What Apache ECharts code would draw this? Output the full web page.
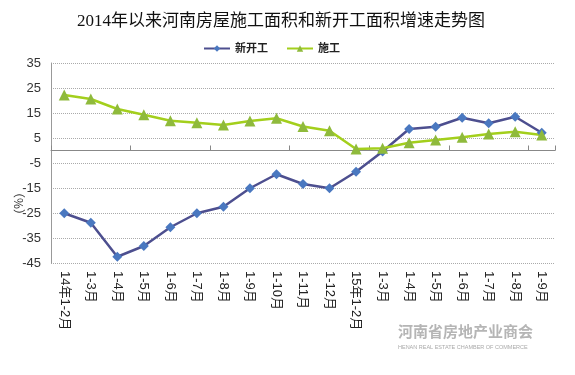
<!DOCTYPE html>
<html><head><meta charset="utf-8">
<script src="https://cdn.jsdelivr.net/npm/echarts@6/dist/echarts.min.js"></script>
<style>html,body{margin:0;padding:0;background:#fff}#c{width:575px;height:375px}</style>
</head><body><div id="c"></div>
<script>
const categories = ['14年1-2月','1-3月','1-4月','1-5月','1-6月','1-7月','1-8月','1-9月','1-10月','1-11月','1-12月','15年1-2月','1-3月','1-4月','1-5月','1-6月','1-7月','1-8月','1-9月'];
const newStart = [-25.1,-28.9,-42.5,-38.2,-30.7,-25.1,-22.5,-15.1,-9.5,-13.4,-15.1,-8.5,-0.4,8.6,9.5,13.1,10.9,13.5,7.1];
const construction = [22.2,20.6,16.6,14.3,11.9,11.1,10.2,11.8,12.9,9.6,7.9,0.6,0.9,3.1,4.2,5.3,6.6,7.5,6.2];
const yMin = -45, yMax = 35, yStep = 10;

const chart = echarts.init(document.getElementById('c'));
const sans = "'Liberation Sans','Noto Sans CJK SC',sans-serif";
chart.setOption({
  animation: false,
  title: {
    text: '2014年以来河南房屋施工面积和新开工面积增速走势图',
    left: 72, top: 8,
    textStyle: {fontFamily: "'Liberation Serif','Noto Sans CJK SC',serif", fontSize: 17, fontWeight: 'normal', color: '#111'}
  },
  legend: {
    left: 198, top: 38, itemWidth: 26, itemHeight: 8, itemGap: 18,
    textStyle: {fontFamily: sans, fontSize: 11, fontWeight: 'bold', color: '#222'},
    data: ['新开工','施工']
  },
  grid: {left: 51, right: 20, top: 63, bottom: 112},
  xAxis: [{
    type: 'category', data: categories, position: 'bottom',
    axisLine: {show: false, onZero: false}, axisTick: {show: false},
    axisLabel: {rotate: -90, margin: 8, interval: 0, fontFamily: sans, fontSize: 13, color: '#222'}
  }, {
    type: 'category', data: categories,
    axisLine: {show: true, onZero: true, lineStyle: {color: '#888', width: 1}},
    axisTick: {show: true, length: 5, lineStyle: {color: '#888'}},
    axisLabel: {show: false}
  }],
  yAxis: {
    type: 'value', min: yMin, max: yMax, interval: yStep,
    axisLine: {show: true, lineStyle: {color: '#999'}},
    axisTick: {show: false},
    axisLabel: {fontFamily: sans, fontSize: 13, color: '#333', margin: 10},
    splitLine: {show: true, lineStyle: {color: '#aaa', type: 'dotted'}}
  },
  series: [{
    name: '新开工', type: 'line', data: newStart,
    symbol: 'diamond', symbolSize: 10,
    lineStyle: {color: '#4d4f8f', width: 2.5},
    itemStyle: {color: '#4a78c0'}
  }, {
    name: '施工', type: 'line', data: construction,
    symbol: 'triangle', symbolSize: 11,
    lineStyle: {color: '#a3cf1c', width: 2.5},
    itemStyle: {color: '#8fba3c'}
  }],
  graphic: [{
    type: 'text', left: 13, top: 186, rotation: -Math.PI/2,
    style: {text: '（%）', font: "12px 'Noto Sans CJK SC'", fill: '#333'}
  }, {
    type: 'text', left: 398, top: 324,
    style: {text: '河南省房地产业商会', font: "bold 15px 'Noto Sans CJK SC'", fill: '#b5b5b5'}
  }, {
    type: 'text', left: 398, top: 344,
    style: {text: 'HENAN REAL ESTATE CHAMBER OF COMMERCE', font: "5.5px 'Liberation Sans'", fill: '#aaa'}
  }]
});
</script></body></html>
